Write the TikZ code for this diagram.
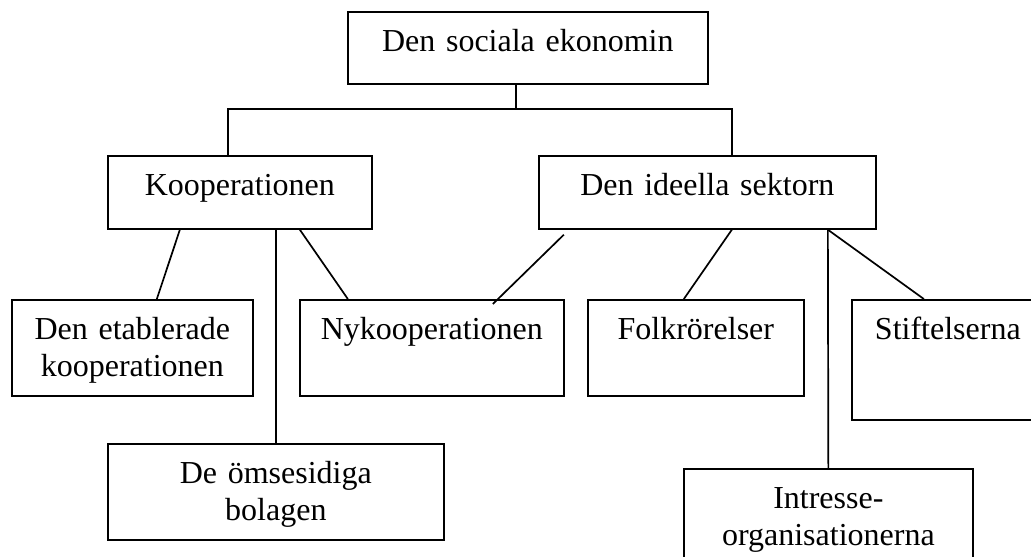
\documentclass[tikz,border=0pt]{standalone}
\usepackage{fontspec}
\setmainfont{Liberation Serif}

\begin{document}
\begin{tikzpicture}[x=1pt,y=-1pt,
        ruta/.style={draw, line width=1.7pt, inner sep=0pt, anchor=north west, align=center,
            font=\fontsize{32}{36.5}\selectfont, text height=40pt, text depth=#1},
        ruta/.default=56pt,
        linje/.style={line width=1.7pt}]
        \useasboundingbox (0,0) rectangle (1031,557);
        \clip (0,0) rectangle (1031,557);
        \node[ruta=32pt, text width=360pt] (eko) at (347,11) {Den sociala ekonomin};
        \node[ruta=33pt, text width=264pt] (koop) at (107,155) {Kooperationen};
        \node[ruta=33pt, text width=337pt] (ideell) at (538,155) {Den ideella sektorn};
        \node[ruta, text width=241pt] (etabl) at (11,299) {Den etablerade\\kooperationen};
        \node[ruta, text width=264pt] (nykoop) at (299,299) {Nykooperationen};
        \node[ruta, text width=216pt] (folk) at (587,299) {Folkrörelser};
        \node[ruta=80pt, text width=192pt] (stift) at (851,299) {Stiftelserna};
        \node[ruta, text width=336pt] (omses) at (107,443) {De ömsesidiga\\bolagen};
        \node[ruta, text width=289pt] (intr) at (683,468) {Intresse-\\organisationerna};
        \coordinate (gren) at ([xshift=-12pt,yshift=-24pt]eko.south);
        \draw [linje] ([xshift=-12pt]eko.south) -- (gren);
        \draw [linje] ([xshift=-12pt]koop.north) |- (gren) -| ([xshift=24.5pt]ideell.north);
        \draw [linje] ([xshift=-60pt]koop.south) -- ([xshift=24.5pt]etabl.north);
        \draw [linje] ([xshift=36pt]koop.south) -- (omses.north);
        \draw [linje] ([xshift=60pt]koop.south) -- ([xshift=-84pt]nykoop.north);
        \draw [linje] ([xshift=-143.5pt,yshift=-5pt]ideell.south) -- ([xshift=61pt,yshift=-5pt]nykoop.north);
        \draw [linje] ([xshift=24.5pt]ideell.south) -- ([xshift=-12pt]folk.north);
        \draw [linje] ([xshift=120.5pt]ideell.south) -- (intr.north);
        \draw [linje] ([xshift=120.5pt]ideell.south) -- ([xshift=-24pt]stift.north);
    \end{tikzpicture}
\end{document}
